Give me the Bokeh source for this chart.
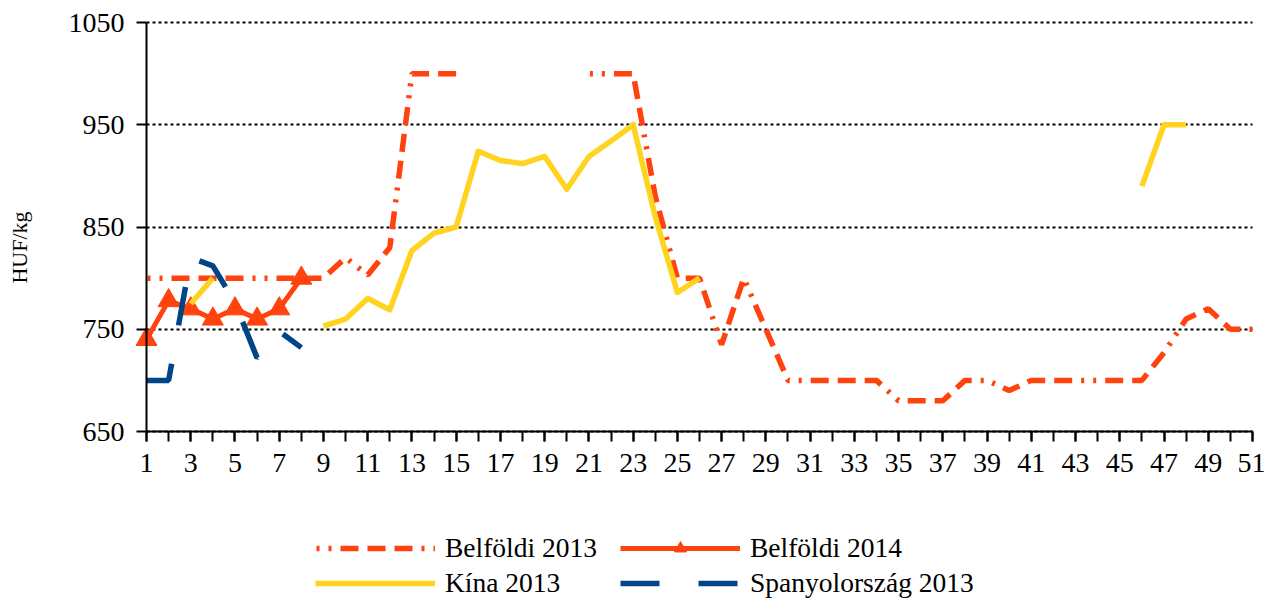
import math
from bokeh.plotting import figure
from bokeh.models import Range1d, FixedTicker, Legend, LegendItem, Label
from bokeh.embed import file_html
from bokeh.resources import INLINE

nan = float("nan")

# ---------------- data ----------------
weeks = [1, 2, 3, 4, 5, 6, 7, 8, 9, 10, 11, 12, 13, 14, 15, 16, 17, 18, 19, 20,
         21, 22, 23, 24, 25, 26, 27, 28, 29, 30, 31, 32, 33, 34, 35, 36, 37, 38, 39, 40,
         41, 42, 43, 44, 45, 46, 47, 48, 49, 50, 51]

belfoldi_2013 = [800, 800, 800, 800, 800, 800, 800, 800, 800, 820,
                 803, 830, 1000, 1000, 1000, nan, nan, nan, nan, nan,
                 1000, 1000, 1000, 880, 800, 800, 735, 800, 750, 700,
                 700, 700, 700, 700, 680, 680, 680, 700, 700, 690,
                 700, 700, 700, 700, 700, 700, 727, 760, 770, 750,
                 750]

kina_2013 = [nan, nan, 775, 800, nan, nan, nan, nan, 753, 760,
             780, 769, 827, 844, 850, 924, 915, 912, 919, 887,
             919, 934, 950, 860, 786, 800, nan, nan, nan, nan,
             nan, nan, nan, nan, nan, nan, nan, nan, nan, nan,
             nan, nan, nan, nan, nan, 890, 950, 950, nan, nan,
             nan]

weeks_2014 = [1, 2, 3, 4, 5, 6, 7, 8]
belfoldi_2014 = [740, 778, 770, 760, 770, 760, 770, 800]

weeks_spanyol = [1, 2, 3, 4, 5, 6, 7, 8]
spanyol_2013 = [700, 700, 820, 812, 776, 722, 748, 732]

x_first, x_last = 1, 51
y_min, y_max = 650, 1050
x_labelled_ticks = [1, 3, 5, 7, 9, 11, 13, 15, 17, 19, 21, 23, 25, 27, 29, 31, 33,
                    35, 37, 39, 41, 43, 45, 47, 49, 51]
y_ticks = [650, 750, 850, 950, 1050]

series_names = ["Belföldi 2013", "Belföldi 2014", "Kína 2013", "Spanyolország 2013"]
y_title = "HUF/kg"

# ---------------- layout (pixels) ----------------
W, H = 1265, 601
PX_LEFT, PX_RIGHT = 146, 1252      # where week 1 / week 51 sit
PX_TOP, PX_BOTTOM = 22, 431        # where 1050 / 650 sit
sx = (PX_RIGHT - PX_LEFT) / (x_last - x_first)
sy = (PX_BOTTOM - PX_TOP) / (y_max - y_min)
x_range = Range1d(x_first - PX_LEFT / sx, x_last + (W - PX_RIGHT) / sx)
y_range = Range1d(y_min - (H - PX_BOTTOM) / sy, y_max + PX_TOP / sy)

ORANGE = "#FF420E"
YELLOW = "#FFD320"
BLUE = "#004586"
FONT = "Liberation Serif"
FS = "28px"
FS_LEGEND = "27.5px"

p = figure(width=W, height=H, output_backend="svg", toolbar_location=None,
           x_range=x_range, y_range=y_range,
           min_border_left=0, min_border_right=0, min_border_top=0,
           min_border_bottom=0)
p.outline_line_color = None
p.background_fill_color = "white"
p.border_fill_color = "white"

# axes placed at the data origin of the chart area
p.xaxis.fixed_location = y_min
p.yaxis.fixed_location = x_first
p.xaxis.bounds = (x_first, x_last)
p.yaxis.bounds = (y_min, y_max)
p.xaxis.ticker = FixedTicker(ticks=x_labelled_ticks, minor_ticks=weeks)
p.yaxis.ticker = FixedTicker(ticks=y_ticks)
for ax in (p.xaxis[0], p.yaxis[0]):
    ax.axis_line_color = "black"
    ax.axis_line_width = 2
    ax.major_tick_line_color = "black"
    ax.major_tick_line_width = 2
    ax.major_tick_out = 10
    ax.major_tick_in = 0
    ax.major_label_text_font = FONT
    ax.major_label_text_font_size = FS
    ax.major_label_text_color = "black"
p.xaxis.minor_tick_line_color = "black"
p.xaxis.minor_tick_line_width = 2
p.xaxis.minor_tick_out = 10
p.xaxis.minor_tick_in = 0
p.xaxis.major_label_standoff = 12
p.yaxis.minor_tick_line_color = None
p.yaxis.major_label_standoff = 12

p.xgrid.visible = False
p.ygrid.ticker = FixedTicker(ticks=y_ticks)
p.ygrid.bounds = (y_min, y_max)
p.ygrid.cross_bounds = (x_first, x_last)
p.ygrid.grid_line_color = "black"
p.ygrid.grid_line_width = 2
p.ygrid.grid_line_dash = "3 3"

# series
r13 = p.line(weeks, belfoldi_2013, line_color=ORANGE, line_width=5.5,
             line_dash="18 9 18 9 18 9 3 9 3 9", line_dash_offset=80)
r14 = p.line(weeks_2014, belfoldi_2014, line_color=ORANGE, line_width=5,
             line_join="round")
r14m = p.scatter(weeks_2014, belfoldi_2014, marker="triangle", size=21,
                 fill_color=ORANGE, line_color=ORANGE)
rk = p.line(weeks, kina_2013, line_color=YELLOW, line_width=5.5, line_join="round")
rs = p.line(weeks_spanyol, spanyol_2013, line_color=BLUE, line_width=5.5,
            line_dash="39 39")


def add_legend(items, loc):
    lg = Legend(items=items, location=loc, orientation="horizontal",
                glyph_width=120, glyph_height=30, label_height=30,
                label_width=175, label_standoff=10, spacing=0, padding=0,
                margin=0, border_line_color=None, background_fill_alpha=0,
                label_text_font=FONT, label_text_font_size=FS_LEGEND,
                label_text_color="black")
    p.add_layout(lg)


add_legend([LegendItem(label=series_names[0], renderers=[r13]),
            LegendItem(label=series_names[1], renderers=[r14, r14m])], (315, H - 564))
add_legend([LegendItem(label=series_names[2], renderers=[rk]),
            LegendItem(label=series_names[3], renderers=[rs])], (315, H - 599))

p.add_layout(Label(x=19, y=H - 247, x_units="screen", y_units="screen",
                   text=y_title, angle=math.pi / 2, text_align="center",
                   text_baseline="middle", text_font=FONT,
                   text_font_size="22px", text_color="black"))

open("out.html", "w").write(file_html(p, INLINE))
